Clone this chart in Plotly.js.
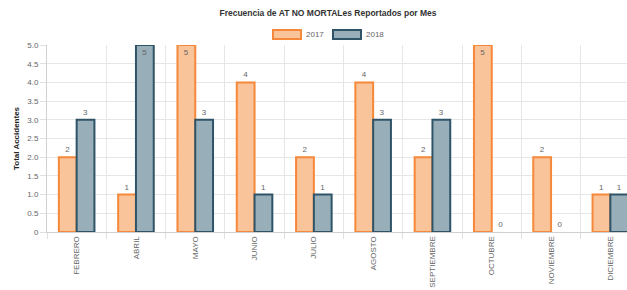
<!DOCTYPE html>
<html>
<head>
<meta charset="utf-8">
<script src="https://cdn.plot.ly/plotly-3.0.1.min.js"></script>
<style>
html,body{margin:0;padding:0;background:#fff;overflow:hidden;width:627px;height:290px;}
#chart{width:656px;height:290px;}
</style>
</head>
<body>
<div id="chart"></div>
<script>
const months = ["FEBRERO","ABRIL","MAYO","JUNIO","JULIO","AGOSTO","SEPTIEMBRE","OCTUBRE","NOVIEMBRE","DICIEMBRE"];
const values2017 = [2,1,5,4,2,4,2,5,2,1];
const values2018 = [3,5,3,1,1,3,3,0,0,1];
const seriesNames = ["2017","2018"];
const yTickVals = [0,0.5,1,1.5,2,2.5,3,3.5,4,4.5,5];
const yTickText = ["0","0.5","1.0","1.5","2.0","2.5","3.0","3.5","4.0","4.5","5.0"];

const W = 656, H = 290;
const M = {l:47, r:16, t:45, b:58};
const pw = W - M.l - M.r, ph = H - M.t - M.b;
const px = x => (x - M.l) / pw;
const py = y => (H - M.b - y) / ph;

const fill17 = "rgba(249,196,154,1)", line17 = "#f5883a";
const fill18 = "rgba(152,174,185,1)", line18 = "#2f5468";
const ymax = 5;
const pos = v => v.map(x => x >= ymax ? "inside" : "outside");
const lw = v => v.map(x => x === 0 ? 0 : 2);

const labelFont = {family:"Liberation Sans, Arial, sans-serif", size:8, color:"#666"};

const traces = [
  {type:"bar", name:seriesNames[0], x:months, y:values2017, text:values2017.map(String),
   textposition:pos(values2017), insidetextanchor:"end", textangle:0,
   textfont:labelFont, insidetextfont:labelFont, outsidetextfont:labelFont,
   marker:{color:fill17, line:{color:line17, width:lw(values2017)}}, cliponaxis:false, hoverinfo:"none"},
  {type:"bar", name:seriesNames[1], x:months, y:values2018, text:values2018.map(String),
   textposition:pos(values2018), insidetextanchor:"end", textangle:0,
   textfont:labelFont, insidetextfont:labelFont, outsidetextfont:labelFont,
   marker:{color:fill18, line:{color:line18, width:lw(values2018)}}, cliponaxis:false, hoverinfo:"none"}
];

const legendBoxes = [
  {x0:273, x1:301, fill:fill17, line:line17, tx:304, label:seriesNames[0]},
  {x0:333, x1:361, fill:fill18, line:line18, tx:364, label:seriesNames[1]}
];
const shapes = legendBoxes.map(b => ({type:"rect", xref:"paper", yref:"paper",
  x0:px(b.x0), x1:px(b.x1), y0:py(39), y1:py(30),
  fillcolor:b.fill, line:{color:b.line, width:2}}));
const annotations = legendBoxes.map(b => ({xref:"paper", yref:"paper", x:px(b.tx), y:py(34.5),
  xanchor:"left", yanchor:"middle", text:b.label, showarrow:false, font:labelFont}));

const layout = {
  width:W, height:H,
  margin:M,
  paper_bgcolor:"#fff", plot_bgcolor:"#fff",
  showlegend:false,
  bargap:0.4, bargroupgap:0,
  barmode:"group",
  title:{text:"Frecuencia de AT NO MORTALes Reportados por Mes", x:0.5, xanchor:"center", y:0.955, yanchor:"middle",
    font:{family:"Liberation Sans, Arial, sans-serif", size:8.5, color:"#333", weight:"bold"}},
  xaxis:{type:"category", tickson:"boundaries", showgrid:true, gridcolor:"#e6e6e6", gridwidth:1,
    ticks:"outside", ticklen:6, tickcolor:"#e0e0e0", showline:true, linecolor:"#d0d0d0",
    tickangle:-90, tickfont:labelFont, fixedrange:true},
  yaxis:{range:[0,ymax], tickvals:yTickVals, ticktext:yTickText, showgrid:true, gridcolor:"#e6e6e6",
    ticks:"outside", ticklen:6, tickcolor:"#e0e0e0", showline:true, linecolor:"#d0d0d0",
    zeroline:false, tickfont:labelFont, fixedrange:true,
    title:{text:"Total Accidentes", standoff:6, font:{family:"Liberation Sans, Arial, sans-serif", size:8, color:"#222", weight:"bold"}}},
  shapes:shapes,
  annotations:annotations
};

Plotly.newPlot("chart", traces, layout, {displayModeBar:false, staticPlot:true});
</script>
</body>
</html>
